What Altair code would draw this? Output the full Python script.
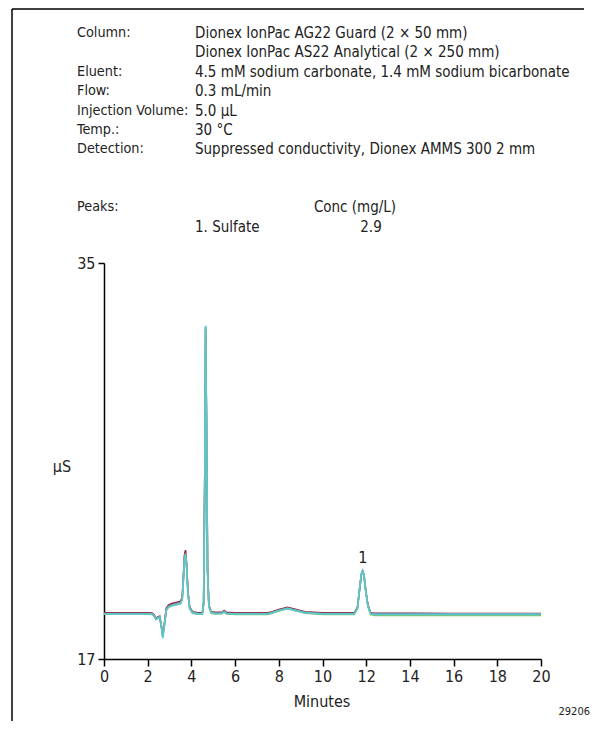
import altair as alt
import pandas as pd

FONT = "DejaVu Sans Condensed, Liberation Sans Narrow, sans-serif"

# ---------------- data ----------------
times = [0, 1.0, 2.0, 2.2, 2.3, 2.38, 2.45, 2.55, 2.62, 2.69, 2.76, 2.85, 2.95,
         3.1, 3.3, 3.5, 3.58, 3.63, 3.68, 3.73, 3.78, 3.84, 3.92, 4.05, 4.3,
         4.5, 4.56, 4.61, 4.65, 4.69, 4.74, 4.8, 4.9, 5.1, 5.4, 5.5, 5.6, 6.0,
         7.0, 7.5, 7.7, 8.0, 8.4, 8.8, 9.2, 10.0, 11.0, 11.45, 11.6, 11.7,
         11.78, 11.84, 11.9, 11.98, 12.08, 12.2, 12.4, 13, 14, 16, 18, 20]

red = [19.1, 19.1, 19.1, 19.09, 19.0, 18.85, 18.9, 18.95, 18.55, 18.05, 18.55,
       19.3, 19.45, 19.52, 19.57, 19.62, 19.8, 20.7, 21.7, 21.95, 21.35, 20.1,
       19.35, 19.15, 19.1, 19.1, 19.55, 25, 32.0, 27.9, 21.0, 19.45, 19.15,
       19.12, 19.12, 19.2, 19.12, 19.1, 19.1, 19.1, 19.15, 19.25, 19.35, 19.25,
       19.15, 19.1, 19.1, 19.1, 19.35, 20.2, 20.85, 21.0, 20.8, 20.1, 19.45,
       19.1, 19.08, 19.08, 19.08, 19.07, 19.07, 19.07]

blue = [19.07, 19.07, 19.07, 19.06, 18.97, 18.82, 18.87, 18.92, 18.52, 18.02,
        18.52, 19.25, 19.4, 19.47, 19.52, 19.57, 19.75, 20.6, 21.6, 21.8, 21.25,
        20.05, 19.32, 19.12, 19.07, 19.07, 19.52, 25, 32.1, 28, 21.0, 19.42,
        19.12, 19.09, 19.1, 19.17, 19.09, 19.07, 19.07, 19.07, 19.12, 19.22,
        19.32, 19.22, 19.12, 19.07, 19.07, 19.07, 19.32, 20.2, 20.85, 21.0,
        20.8, 20.1, 19.42, 19.08, 19.07, 19.07, 19.07, 19.06, 19.06, 19.06]

green = [19.04, 19.04, 19.04, 19.03, 18.94, 18.8, 18.85, 18.9, 18.5, 18.0,
         18.5, 19.2, 19.35, 19.42, 19.47, 19.52, 19.7, 20.5, 21.5, 21.75, 21.2,
         20.0, 19.28, 19.08, 19.04, 19.04, 19.5, 25, 32.1, 28, 21.0, 19.38,
         19.08, 19.05, 19.06, 19.13, 19.05, 19.03, 19.03, 19.03, 19.08, 19.18,
         19.28, 19.18, 19.08, 19.03, 19.03, 19.03, 19.28, 20.2, 20.85, 21.0,
         20.8, 20.1, 19.38, 19.02, 18.98, 18.98, 18.98, 18.98, 18.98, 18.98]

cyan = [19.05, 19.05, 19.05, 19.04, 18.95, 18.8, 18.85, 18.9, 18.5, 17.95, 18.5,
        19.2, 19.35, 19.42, 19.47, 19.52, 19.7, 20.5, 21.5, 21.75, 21.2, 20.0,
        19.3, 19.1, 19.05, 19.05, 19.5, 25, 32.15, 28, 21.0, 19.4, 19.1, 19.07,
        19.08, 19.15, 19.07, 19.05, 19.05, 19.05, 19.1, 19.2, 19.3, 19.2, 19.1,
        19.05, 19.05, 19.05, 19.3, 20.2, 20.85, 21.0, 20.8, 20.1, 19.4, 19.05,
        19.02, 19.02, 19.02, 19.03, 19.03, 19.03]

series_names = ["red", "blue", "green", "cyan"]
series_values = [red, blue, green, cyan]
series_colors = ["#9b1c31", "#6f8fb0", "#7cc46a", "#5cc6d0"]

x_ticks = [0, 2, 4, 6, 8, 10, 12, 14, 16, 18, 20]
y_ticks = [17, 35]

peak_labels = ["1"]
peak_times = [11.84]
peak_heights = [21.25]

header_keys = ["Column:", "", "Eluent:", "Flow:", "Injection Volume:", "Temp.:", "Detection:"]
header_vals = ["Dionex IonPac AG22 Guard (2 × 50 mm)",
               "Dionex IonPac AS22 Analytical (2 × 250 mm)",
               "4.5 mM sodium carbonate, 1.4 mM sodium bicarbonate",
               "0.3 mL/min",
               "5.0 µL",
               "30 °C",
               "Suppressed conductivity, Dionex AMMS 300 2 mm"]

# ---------------- build ----------------
frames = []
for i, (n, v) in enumerate(zip(series_names, series_values)):
    frames.append(pd.DataFrame({"t": times, "v": v, "s": n, "o": i}))
df = pd.concat(frames, ignore_index=True)

W, H = 437, 396
xs = alt.Scale(domain=[0, 20], nice=False, zero=False)
ys = alt.Scale(domain=[17, 35], nice=False, zero=False)

lines = alt.Chart(df).mark_line(strokeWidth=1.6, clip=True).encode(
    x=alt.X("t:Q", scale=xs,
            axis=alt.Axis(values=x_ticks, title=None, grid=False, tickSize=7,
                          tickWidth=1.5, domainWidth=1.5, domainColor="black",
                          tickColor="black", labelFontSize=16, labelFont=FONT,
                          labelColor="#222", labelPadding=2, labelFlush=False)),
    y=alt.Y("v:Q", scale=ys,
            axis=alt.Axis(values=y_ticks, title=None, grid=False, tickSize=6,
                          tickWidth=1.5, domainWidth=1.5, domainColor="black",
                          tickColor="black", labelFontSize=16, labelFont=FONT,
                          labelColor="#222", labelPadding=3)),
    color=alt.Color("s:N", scale=alt.Scale(domain=series_names, range=series_colors), legend=None),
    order="o:Q",
    detail="s:N",
)

peaks = alt.Chart(pd.DataFrame({"t": peak_times, "v": peak_heights, "l": peak_labels})).mark_text(
    font=FONT, fontSize=16, color="#222", baseline="bottom"
).encode(x=alt.X("t:Q", scale=xs), y=alt.Y("v:Q", scale=ys), text="l:N")

layers = [lines, peaks]

def txt(s, x, y, align="left", size=15):
    return alt.Chart(pd.DataFrame({"a": [0]})).mark_text(
        text=s, font=FONT, fontSize=size, color="#222", align=align, baseline="middle"
    ).encode(x=alt.value(x), y=alt.value(y))

top = -230
step = 19.4
for i, (k, v) in enumerate(zip(header_keys, header_vals)):
    if k:
        layers.append(txt(k, -27, top + i * step, size=14.3))
    layers.append(txt(v, 91, top + i * step))

layers.append(txt("Peaks:", -27, -56, size=14.3))
layers.append(txt("Conc (mg/L)", 251, -56, align="center"))
layers.append(txt("1. Sulfate", 91, -36))
layers.append(txt("2.9", 267, -36, align="center"))
layers.append(txt("µS", -42, 204, align="center", size=16))
layers.append(txt("Minutes", 218, 439, align="center", size=16))
layers.append(txt("29206", 486, 449, align="right", size=11))

# frame lines (left and top)
layers.append(alt.Chart(pd.DataFrame({"a": [0]})).mark_rule(color="black", strokeWidth=1.5).encode(
    x=alt.value(-92), y=alt.value(-254), y2=alt.value(470)))
layers.append(alt.Chart(pd.DataFrame({"a": [0]})).mark_rule(color="black", strokeWidth=1.5).encode(
    x=alt.value(-92), x2=alt.value(480), y=alt.value(-254)))

chart = alt.layer(*layers).properties(
    width=W, height=H,
    autosize=alt.AutoSizeParams(type="none"),
    padding={"left": 96, "top": 255, "right": 50, "bottom": 62},
).configure_view(stroke=None)

chart.save("out.html", embed_options={"renderer": "svg", "actions": False})
